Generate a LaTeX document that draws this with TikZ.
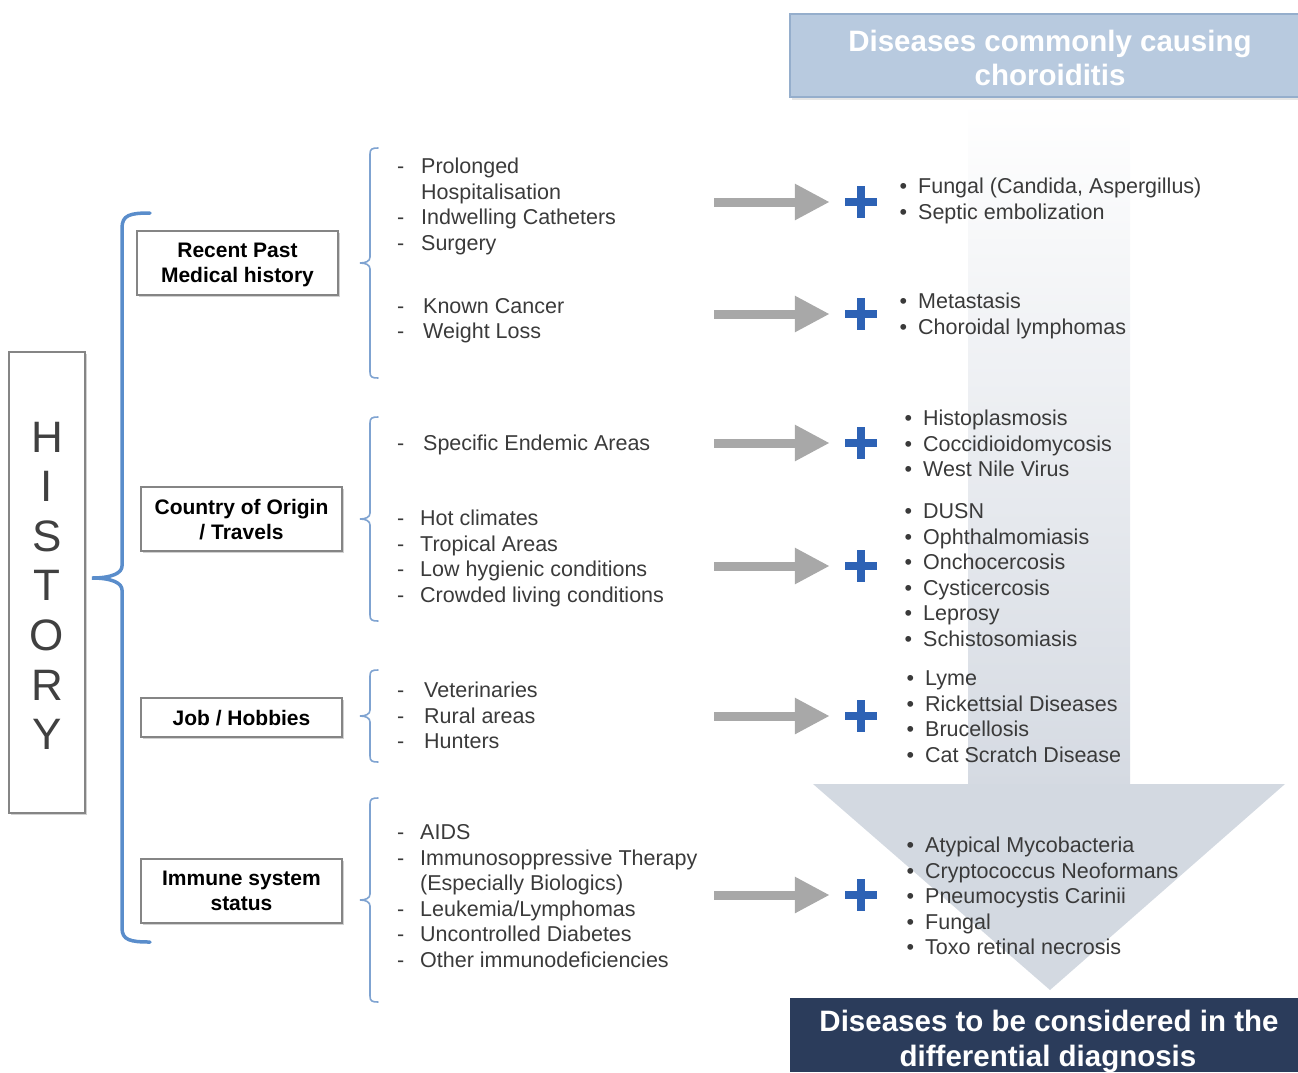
\documentclass[tikz,border=0pt]{standalone}
\usepackage{fontspec}
\setmainfont{Liberation Sans}
\usetikzlibrary{arrows.meta,shadows}
\definecolor{txt}{HTML}{3A3A3A}
\definecolor{boxgray}{HTML}{858585}
\definecolor{braceblue}{HTML}{5A8DCB}
\definecolor{thinblue}{HTML}{7FA3D1}
\definecolor{arrowgray}{HTML}{A8A8A8}
\definecolor{plusblue}{HTML}{2D62B5}
\definecolor{bannerfill}{HTML}{B8CADF}
\definecolor{bannerline}{HTML}{95AECC}
\definecolor{navy}{HTML}{2B3C5B}
\definecolor{shaftc}{HTML}{D5DAE2}
\definecolor{headc}{HTML}{D3D9E1}
\begin{document}
\begin{tikzpicture}[x=1pt,y=-1pt,
  litem/.style={anchor=base west, inner sep=0pt, text=txt, font=\fontsize{21.5}{25}\selectfont},
  catbox/.style={draw=boxgray, line width=2pt, fill=white, align=center, text=black,
    font=\fontsize{21}{25}\selectfont\bfseries, minimum width=201pt, inner sep=0pt, text depth=0pt,
    drop shadow={shadow xshift=1.5pt, shadow yshift=-1.5pt, fill=black!30, opacity=0.6}},
  bantext/.style={anchor=base, inner sep=0pt, text=white, font=\fontsize{29.5}{34}\selectfont\bfseries},
  histletter/.style={anchor=base, inner sep=0pt, text=black!75, font=\fontsize{44}{50}\selectfont},
  grayarrow/.style={draw=arrowgray, line width=9pt, -{Triangle[length=35pt,width=34pt]}, shorten >=15pt},
  plussign/.style={minimum size=32pt, inner sep=0pt, path picture={
     \fill[plusblue] ([xshift=-16pt,yshift=-4pt]path picture bounding box.center) rectangle ([xshift=16pt,yshift=4pt]path picture bounding box.center);
     \fill[plusblue] ([xshift=-4pt,yshift=-16pt]path picture bounding box.center) rectangle ([xshift=4pt,yshift=16pt]path picture bounding box.center);}},
  bigbrace/.style={draw=braceblue, line width=3.5pt, line cap=round},
  smallbrace/.style={draw=thinblue, line width=1.6pt, line cap=round}
]
\useasboundingbox (0,0) rectangle (1298,1072);

% big down arrow
\shade[top color=white, bottom color=shaftc] (968,100) rectangle (1130,785);
\fill[headc] (813,784) -- (1285,784) -- (1050,990) -- cycle;

% top banner
\fill[black!10] (792,97) rectangle (1298,100);
\fill[bannerfill] (790,14) rectangle (1298,97);
\draw[bannerline, line width=1.5pt] (1298,14) -- (790,14) -- (790,97) -- (1298,97);
\node[bantext] (bt1) at (1050,51) {Diseases commonly causing};
\node[bantext] (bt2) at (1050,85) {choroiditis};

% bottom banner
\fill[navy] (790,998) rectangle (1298,1072);
\node[bantext] (bb1) at (1049,1031) {Diseases to be considered in the};
\node[bantext] (bb2) at (1048,1066) {differential diagnosis};

% HISTORY box
\node[draw=boxgray, line width=2.5pt, fill=white, minimum width=76pt, minimum height=461pt, inner sep=0pt,
  drop shadow={shadow xshift=1.5pt, shadow yshift=-1.5pt, fill=black!30, opacity=0.6}] (hist) at (47,582.5) {};
\node[histletter] (h1) at (47,452) {H};
\node[histletter] (h2) at (47,501) {I};
\node[histletter] (h3) at (47,551) {S};
\node[histletter] (h4) at (47,600) {T};
\node[histletter] (h5) at (47,650) {O};
\node[histletter] (h6) at (47,700) {R};
\node[histletter] (h7) at (47,749) {Y};

% big brace
\coordinate (bt) at (92,578);
\draw[bigbrace] (150,213) .. controls (130,213) and (122,215) .. (122,228) -- (122,566)
  .. controls (122,573) and (112,578) .. (bt)
  .. controls (112,578) and (122,583) .. (122,590) -- (122,928)
  .. controls (122,940) and (130,942) .. (150,942);

% category boxes
\node[catbox, minimum height=64pt] (c1) at (237.5,263) {Recent Past\\Medical history};
\node[catbox, minimum height=64pt] (c2) at (241.5,519) {Country of Origin\\/ Travels};
\node[catbox, minimum height=39pt] (c3) at (241.5,717.5) {Job / Hobbies};
\node[catbox, minimum height=64pt] (c4) at (241.5,891) {Immune system\\status};

% small brackets
\foreach \t/\m/\b in {148/263/378, 417/519/621, 670/716/762, 798/900/1002}{
  \draw[smallbrace] (378,\t) .. controls (372,\t) and (370,\t+1) .. (370,\t+6) -- (370,\m-6)
    .. controls (370,\m-2) and (366,\m) .. (360,\m)
    .. controls (366,\m) and (370,\m+2) .. (370,\m+6) -- (370,\b-6)
    .. controls (370,\b-1) and (372,\b) .. (378,\b);
}

% left lists
\node[litem] (a1) at (421,173.5) {\llap{-\hspace{17pt}}Prolonged};
\node[litem] (a2) at (421,199) {Hospitalisation};
\node[litem] (a3) at (421,224.5) {\llap{-\hspace{17pt}}Indwelling Catheters};
\node[litem] (a4) at (421,250) {\llap{-\hspace{17pt}}Surgery};
\node[litem] (b1) at (423,313) {\llap{-\hspace{19pt}}Known Cancer};
\node[litem] (b2) at (423,338.5) {\llap{-\hspace{19pt}}Weight Loss};
\node[litem] (e1) at (423,450.5) {\llap{-\hspace{19pt}}Specific Endemic Areas};
\node[litem] (f1) at (420,525.5) {\llap{-\hspace{16pt}}Hot climates};
\node[litem] (f2) at (420,551) {\llap{-\hspace{16pt}}Tropical Areas};
\node[litem] (f3) at (420,576.5) {\llap{-\hspace{16pt}}Low hygienic conditions};
\node[litem] (f4) at (420,602) {\llap{-\hspace{16pt}}Crowded living conditions};
\node[litem] (j1) at (424,697.5) {\llap{-\hspace{20pt}}Veterinaries};
\node[litem] (j2) at (424,723) {\llap{-\hspace{20pt}}Rural areas};
\node[litem] (j3) at (424,748.5) {\llap{-\hspace{20pt}}Hunters};
\node[litem] (i1) at (420,839.5) {\llap{-\hspace{16pt}}AIDS};
\node[litem] (i2) at (420,865) {\llap{-\hspace{16pt}}Immunosoppressive Therapy};
\node[litem] (i3) at (420,890.5) {(Especially Biologics)};
\node[litem] (i4) at (420,916) {\llap{-\hspace{16pt}}Leukemia/Lymphomas};
\node[litem] (i5) at (420,941.5) {\llap{-\hspace{16pt}}Uncontrolled Diabetes};
\node[litem] (i6) at (420,967) {\llap{-\hspace{16pt}}Other immunodeficiencies};

% arrows and plus signs
\foreach \n/\y in {1/202, 2/314, 3/443, 4/566, 5/716, 6/895}{
  \node[plussign] (p\n) at (861,\y) {};
  \coordinate (s\n) at (714,\y);
  \draw[grayarrow] (s\n) -- (p\n.west);
}

% right lists
\node[litem] (r1) at (918,193.5) {\llap{•\hspace{11pt}}Fungal (Candida, Aspergillus)};
\node[litem] (r2) at (918,219) {\llap{•\hspace{11pt}}Septic embolization};
\node[litem] (r3) at (918,308.5) {\llap{•\hspace{11pt}}Metastasis};
\node[litem] (r4) at (918,334) {\llap{•\hspace{11pt}}Choroidal lymphomas};
\node[litem] (r5) at (923,425.5) {\llap{•\hspace{11pt}}Histoplasmosis};
\node[litem] (r6) at (923,451) {\llap{•\hspace{11pt}}Coccidioidomycosis};
\node[litem] (r7) at (923,476.5) {\llap{•\hspace{11pt}}West Nile Virus};
\node[litem] (r8) at (923,518.5) {\llap{•\hspace{11pt}}DUSN};
\node[litem] (r9) at (923,544) {\llap{•\hspace{11pt}}Ophthalmomiasis};
\node[litem] (r10) at (923,569.5) {\llap{•\hspace{11pt}}Onchocercosis};
\node[litem] (r11) at (923,595) {\llap{•\hspace{11pt}}Cysticercosis};
\node[litem] (r12) at (923,620.5) {\llap{•\hspace{11pt}}Leprosy};
\node[litem] (r13) at (923,646) {\llap{•\hspace{11pt}}Schistosomiasis};
\node[litem] (r14) at (925,685.5) {\llap{•\hspace{11pt}}Lyme};
\node[litem] (r15) at (925,711) {\llap{•\hspace{11pt}}Rickettsial Diseases};
\node[litem] (r16) at (925,736.5) {\llap{•\hspace{11pt}}Brucellosis};
\node[litem] (r17) at (925,762) {\llap{•\hspace{11pt}}Cat Scratch Disease};
\node[litem] (r18) at (925,852.5) {\llap{•\hspace{11pt}}Atypical Mycobacteria};
\node[litem] (r19) at (925,878) {\llap{•\hspace{11pt}}Cryptococcus Neoformans};
\node[litem] (r20) at (925,903.5) {\llap{•\hspace{11pt}}Pneumocystis Carinii};
\node[litem] (r21) at (925,929) {\llap{•\hspace{11pt}}Fungal};
\node[litem] (r22) at (925,954.5) {\llap{•\hspace{11pt}}Toxo retinal necrosis};
\end{tikzpicture}
\end{document}
